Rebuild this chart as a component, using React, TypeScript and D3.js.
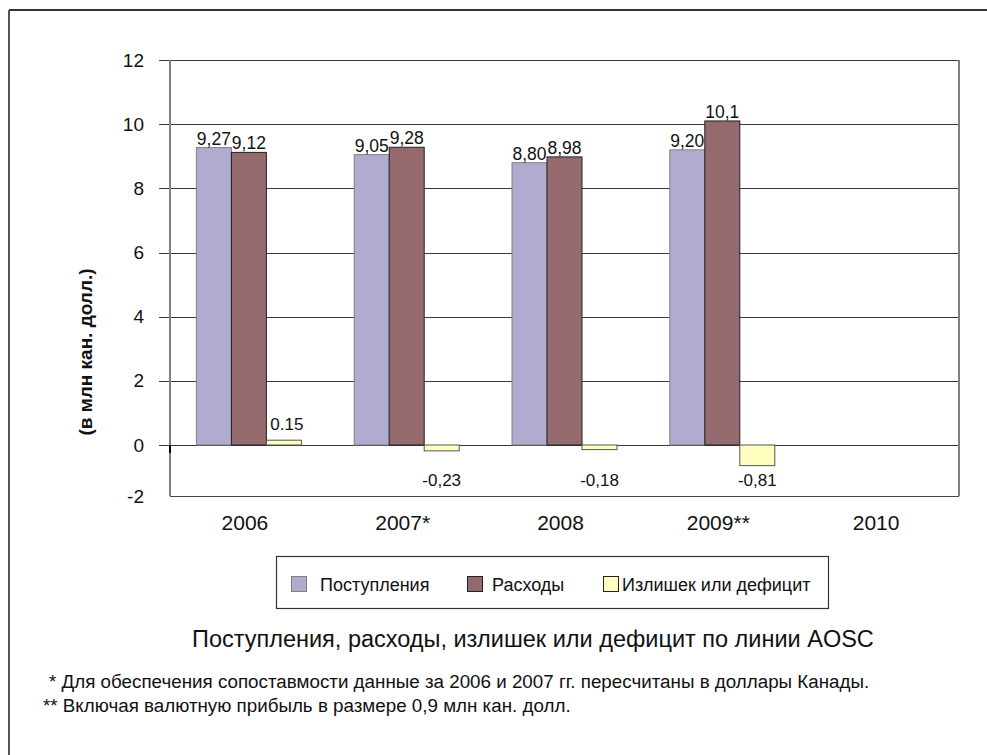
import React from 'react';
import * as d3 from 'd3';

const categories = ['2006', '2007*', '2008', '2009**', '2010'];
const seriesNames = ['Поступления', 'Расходы', 'Излишек или дефицит'];
const revenue = [9.27, 9.05, 8.8, 9.2];
const expenses = [9.12, 9.28, 8.98, 10.1];
const balance = [0.15, -0.23, -0.18, -0.81];
const revenueLabels = ['9,27', '9,05', '8,80', '9,20'];
const expenseLabels = ['9,12', '9,28', '8,98', '10,1'];
const balanceLabels = ['0.15', '-0,23', '-0,18', '-0,81'];
const yTicks = [-2, 0, 2, 4, 6, 8, 10, 12];
const yTitle = '(в млн кан. долл.)';
const chartTitle = 'Поступления, расходы, излишек или дефицит по линии AOSC';
const footnotes = [
  '* Для обеспечения сопоставмости данные за 2006 и 2007 гг. пересчитаны в доллары Канады.',
  '** Включая валютную прибыль в размере 0,9 млн кан. долл.',
];

const colors = ['#B0ACD0', '#946A6E', '#FFFFC0'];
const strokes = ['#808080', '#222222', '#555555'];
const FONT = "'Liberation Sans', Arial, sans-serif";

export default function App() {
  const W = 987;
  const H = 755;
  const left = 170;
  const right = 959;
  const top = 60;
  const bottom = 496;

  const y = d3.scaleLinear().domain([-2, 0, 12]).range([bottom, 445, top]);
  const x0 = d3.scaleBand<string>().domain(categories).range([left, right]);
  const bw = x0.bandwidth();
  const groupW = 105;
  const x1 = d3.scaleBand<string>().domain(seriesNames).range([0, groupW]);
  const barW = x1.bandwidth();
  const off = (bw - groupW) / 2;
  const y0 = y(0);

  const series = [revenue, expenses, balance];

  const legendItems = [
    { sx: 291, tx: 320 },
    { sx: 467, tx: 492 },
    { sx: 603, tx: 622 },
  ];

  return (
    <svg
      width={W}
      height={H}
      style={{ position: 'absolute', left: 0, top: 0, background: '#fff' }}
      fontFamily={FONT}
    >
      <rect x={0} y={0} width={W} height={H} fill="#fff" />
      {/* outer frame */}
      <line x1={9} y1={10} x2={W} y2={10} stroke="#333" strokeWidth={2} />
      <line x1={9} y1={10} x2={9} y2={H} stroke="#555" strokeWidth={2} />

      {/* gridlines & ticks */}
      {yTicks.filter((t) => t >= 0).map((t) => (
        <line
          key={'g' + t}
          x1={159}
          x2={right}
          y1={Math.round(y(t)) + 0.5}
          y2={Math.round(y(t)) + 0.5}
          stroke="#3a3a3a"
          strokeWidth={1}
        />
      ))}
      <line x1={left} x2={right} y1={bottom + 0.5} y2={bottom + 0.5} stroke="#444" strokeWidth={1.2} />
      {yTicks.map((t) => (
        <text
          key={'yt' + t}
          x={144}
          y={y(t)}
          dy="0.35em"
          textAnchor="end"
          fontSize={19}
          fill="#111"
        >
          {t}
        </text>
      ))}

      {/* bars */}
      {series.map((vals, si) =>
        vals.map((v, ci) => {
          const bx = (x0(categories[ci]) as number) + off + (x1(seriesNames[si]) as number);
          const yt = y(Math.max(0, v));
          const h = Math.abs(y(v) - y0);
          return (
            <rect
              key={'b' + si + '-' + ci}
              x={bx}
              y={yt}
              width={barW}
              height={h}
              fill={colors[si]}
              stroke={strokes[si]}
              strokeWidth={1}
            />
          );
        })
      )}

      {/* axes */}
      <line x1={left} x2={left} y1={top} y2={bottom} stroke="#808080" strokeWidth={2} />
      <line x1={right} x2={right} y1={top} y2={bottom} stroke="#808080" strokeWidth={2} />
      <line x1={left} x2={left} y1={y0} y2={y0 + 8} stroke="#000" strokeWidth={2} />

      {/* data labels */}
      {[revenueLabels, expenseLabels].map((labs, si) =>
        labs.map((lab, ci) => {
          const v = series[si][ci];
          const cx = (x0(categories[ci]) as number) + off + (x1(seriesNames[si]) as number) + barW / 2;
          return (
            <text key={'l' + si + '-' + ci} x={cx} y={y(v) - 3} textAnchor="middle" fontSize={17.5} fill="#111">
              {lab}
            </text>
          );
        })
      )}
      {balanceLabels.map((lab, ci) => {
        const v = balance[ci];
        const cx = (x0(categories[ci]) as number) + off + (x1(seriesNames[2]) as number) + barW / 2;
        const ly = v >= 0 ? y(v) - 10 : y0 + 41;
        return (
          <text key={'bl' + ci} x={cx + (v >= 0 ? 3 : 0)} y={ly} textAnchor="middle" fontSize={17} fill="#111">
            {lab}
          </text>
        );
      })}

      {/* x labels */}
      {categories.map((c) => (
        <text
          key={'x' + c}
          x={(x0(c) as number) + bw / 2 - 4}
          y={530}
          textAnchor="middle"
          fontSize={21}
          fill="#111"
        >
          {c}
        </text>
      ))}

      {/* y title */}
      <text
        transform={`translate(92, 352) rotate(-90)`}
        textAnchor="middle"
        fontSize={19}
        fontWeight="bold"
        fill="#111"
      >
        {yTitle}
      </text>

      {/* legend */}
      <rect x={276.5} y={556.5} width={552} height={52} fill="#fff" stroke="#333" strokeWidth={1.2} />
      {seriesNames.map((n, i) => (
        <g key={'lg' + i}>
          <rect
            x={legendItems[i].sx + 0.5}
            y={576.5}
            width={15}
            height={15}
            fill={colors[i]}
            stroke={i === 0 ? '#808080' : '#222'}
            strokeWidth={1}
          />
          <text x={legendItems[i].tx} y={591} fontSize={18} fill="#111">
            {n}
          </text>
        </g>
      ))}

      {/* title */}
      <text x={192} y={647} fontSize={23.5} fill="#111">
        {chartTitle}
      </text>

      {/* footnotes */}
      <text x={49} y={688} fontSize={18.8} fill="#111">
        {footnotes[0]}
      </text>
      <text x={43} y={712} fontSize={18.8} fill="#111">
        {footnotes[1]}
      </text>
    </svg>
  );
}
